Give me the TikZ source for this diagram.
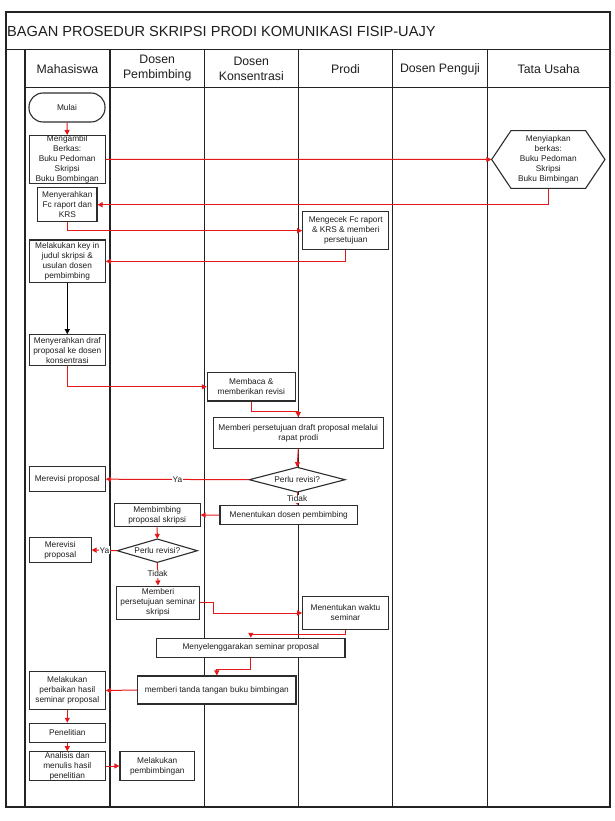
\documentclass[tikz,border=0pt]{standalone}
\usepackage{fontspec}
\setmainfont{Liberation Sans}
\usetikzlibrary{arrows.meta,calc}
\definecolor{myred}{RGB}{228,24,24}
\definecolor{boxc}{RGB}{45,45,45}
\definecolor{txt}{RGB}{30,30,30}
\definecolor{framec}{RGB}{35,35,35}
\tikzset{
  box/.style={draw=boxc, fill=white, line width=1.1pt, inner sep=0pt, align=center,
    font=\fontsize{8.3}{10}\selectfont, text=txt},
  ghost/.style={inner sep=0pt, align=center, font=\fontsize{8.3}{10}\selectfont, text=txt},
  outline/.style={draw=boxc, fill=white, line width=1.1pt},
  flow/.style={draw=myred, line width=1pt, -{Triangle[length=5pt,width=5pt]}},
  blackflow/.style={draw=black, line width=1pt, -{Triangle[length=5pt,width=5pt]}},
  lbl/.style={fill=white, inner sep=1pt, font=\fontsize{8.3}{10}\selectfont, text=txt},
  frame/.style={draw=framec, line width=1.4pt},
  head/.style={align=center, font=\fontsize{12.3}{15}\selectfont, text=txt, inner sep=0pt}
}
\begin{document}
\begin{tikzpicture}[x=1pt,y=-1pt]
\useasboundingbox[fill=white] (0,0) rectangle (614,821);
% frame
\draw[frame] (6,12) rectangle (610,807);
\draw[frame] (6,49.5) -- (610,49.5);
\draw[frame] (25,87.7) -- (610,87.7);
\foreach \xx in {25,110,204.3,298.3,392.7,487.3}{\draw[frame] (\xx,49.5) -- (\xx,807);}
\node[anchor=west, inner sep=0pt, font=\fontsize{14.6}{16}\selectfont, text=txt] (title) at (7,31) {BAGAN PROSEDUR SKRIPSI PRODI KOMUNIKASI FISIP-UAJY};
\node[head] (h1) at (67.5,69) {Mahasiswa};
\node[head] (h2) at (157.2,68.5) {Dosen\\Pembimbing};
\node[head] (h3) at (251.3,68.5) {Dosen\\Konsentrasi};
\node[head] (h4) at (345.5,69) {Prodi};
\node[head] (h5) at (440,69) {Dosen Penguji};
\node[head] (h6) at (548.7,69) {Tata Usaha};

% hexagon and diamonds: outlines first, then text nodes on top
\path (548.3,159.5) coordinate (hexc);
\draw[outline] ($(hexc)+(-56.65,0)$) -- ++(19.3,-28.8) -- ++(74.7,0) -- ++(19.3,28.8) -- ++(-19.3,28.8) -- ++(-74.7,0) -- cycle;
\path (297.2,479.7) coordinate (d1c);
\draw[outline] ($(d1c)+(-47.85,0)$) -- ++(47.85,-12.35) -- ++(47.85,12.35) -- ++(-47.85,12.35) -- cycle;
\path (157.3,550.7) coordinate (d2c);
\draw[outline] ($(d2c)+(-40,0)$) -- ++(40,-11.65) -- ++(40,11.65) -- ++(-40,11.65) -- cycle;

% nodes
\node[box, rounded corners=14pt, minimum width=76, minimum height=29] (mulai) at (67,107.5) {Mulai};
\node[box, minimum width=75.7, minimum height=47.3] (ambil) at (67.2,159.4) {Mengambil\\Berkas:\\Buku Pedoman\\Skripsi\\Buku Bombingan};
\node[ghost, minimum width=113.3, minimum height=57.6] (hex) at (hexc) {Menyiapkan\\berkas:\\Buku Pedoman\\Skripsi\\Buku Bimbingan};
\node[box, minimum width=59.3, minimum height=34] (serah) at (67.3,204.7) {Menyerahkan\\Fc raport dan\\KRS};
\node[box, minimum width=86, minimum height=38] (cek) at (345.7,230.7) {Mengecek Fc raport\\\& KRS \& memberi\\persetujuan};
\node[box, minimum width=76, minimum height=42.7] (keyin) at (67.3,261.3) {Melakukan key in\\judul skripsi \&\\usulan dosen\\pembimbing};
\node[box, minimum width=76, minimum height=31] (draf) at (67.3,350.2) {Menyerahkan draf\\proposal ke dosen\\konsentrasi};
\node[box, minimum width=88, minimum height=28.3] (membaca) at (251.3,386.8) {Membaca \&\\memberikan revisi};
\node[box, minimum width=170, minimum height=30.6] (setuju) at (298.3,433) {Memberi persetujuan draft proposal melalui\\rapat prodi};
\node[ghost, minimum width=95.7, minimum height=24.7] (d1) at (d1c) {Perlu revisi?};
\node[box, minimum width=76, minimum height=25] (rev1) at (67.3,479.2) {Merevisi proposal};
\node[box, minimum width=137.7, minimum height=19] (tentukan) at (288.8,515.2) {Menentukan dosen pembimbing};
\node[box, minimum width=85.7, minimum height=23.4] (bimbing) at (157.2,515) {Membimbing\\proposal skripsi};
\node[ghost, minimum width=80, minimum height=23.3] (d2) at (d2c) {Perlu revisi?};
\node[box, minimum width=61.7, minimum height=24.6] (rev2) at (60.2,550) {Merevisi\\proposal};
\node[box, minimum width=82.6, minimum height=33.3] (semsetuju) at (158,602.7) {Memberi\\persetujuan seminar\\skripsi};
\node[box, minimum width=85.6, minimum height=32.6] (waktu) at (345.5,613) {Menentukan waktu\\seminar};
\node[box, minimum width=188.3, minimum height=18.7] (selenggara) at (250.8,647.7) {Menyelenggarakan seminar proposal};
\node[box, minimum width=158.3, minimum height=28] (ttd) at (216.8,690) {memberi tanda tangan buku bimbingan};
\node[box, minimum width=76, minimum height=37.6] (perbaikan) at (67.3,690.5) {Melakukan\\perbaikan hasil\\seminar proposal};
\node[box, minimum width=76, minimum height=19] (penelitian) at (67.3,732.8) {Penelitian};
\node[box, minimum width=76, minimum height=28.6] (analisis) at (67.3,766) {Analisis dan\\menulis hasil\\penelitian};
\node[box, minimum width=74.7, minimum height=28.6] (pembimbingan) at (157.3,766) {Melakukan\\pembimbingan};

% connectors
\draw[flow] (mulai.south) -- (ambil.north);
\draw[flow] (ambil.east) -- (hex.west);
\draw[flow] (hex.south) |- (serah.east);
\draw[flow] (serah.south) |- (cek.west);
\draw[flow] (cek.south) |- (keyin.east);
\draw[blackflow] (keyin.south) -- (draf.north);
\draw[flow] (draf.south) |- (membaca.west);
\draw[flow] (membaca.south) -- ++(0,10) -| (setuju.north);
\draw[flow] (setuju.south) -- (d1.north);
\draw[flow] (d1.west) -- node[lbl] (ya1) {Ya} (rev1.east);
\draw[flow] (d1.south) -- node[lbl] (tidak1) {Tidak} (d1.south |- tentukan.north);
\draw[flow] (tentukan.west) -- (bimbing.east);
\draw[flow] (bimbing.south) -- (d2.north);
\draw[flow] (d2.west) -- node[lbl] (ya2) {Ya} (rev2.east);
\draw[flow] (d2.south) -- node[lbl] (tidak2) {Tidak} (semsetuju.north);
\draw[flow] (semsetuju.east) -- ++(14,0) |- (waktu.west);
\draw[flow] (waktu.south) -- ++(0,4.7) -| (selenggara.north);
\draw[flow] (selenggara.south) -- ++(0,12) -| (ttd.north);
\draw[flow] (ttd.west) -- (perbaikan.east);
\draw[flow] (perbaikan.south) -- (penelitian.north);
\draw[flow] (penelitian.south) -- (analisis.north);
\draw[flow] (analisis.east) -- (pembimbingan.west);
\end{tikzpicture}
\end{document}
